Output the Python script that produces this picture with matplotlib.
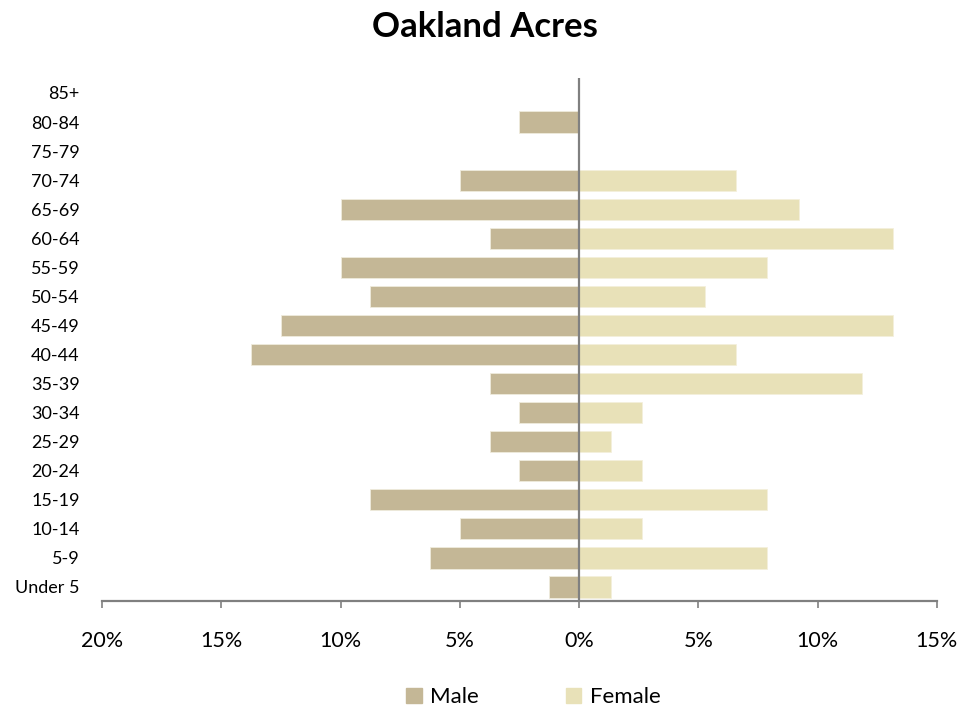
import numpy as np
import matplotlib.pyplot as plt
from matplotlib.ticker import FuncFormatter
from matplotlib.patches import Patch

plt.rcParams['font.family'] = ['Lato', 'DejaVu Sans']

# age groups bottom to top
ages = ['Under 5', '5-9', '10-14', '15-19', '20-24', '25-29', '30-34', '35-39',
        '40-44', '45-49', '50-54', '55-59', '60-64', '65-69', '70-74', '75-79',
        '80-84', '85+']
male = [1.25, 6.25, 5.0, 8.75, 2.5, 3.75, 2.5, 3.75,
        13.75, 12.5, 8.75, 10.0, 3.75, 10.0, 5.0, 0.0, 2.5, 0.0]
female = [1.32, 7.89, 2.63, 7.89, 2.63, 1.32, 2.63, 11.84,
          6.58, 13.16, 5.26, 7.89, 13.16, 9.21, 6.58, 0.0, 0.0, 0.0]
x_ticks = [-20, -15, -10, -5, 0, 5, 10, 15]

male_color = '#C4B796'
female_color = '#E8E1B8'

fig = plt.figure(figsize=(9.79, 7.13), dpi=100)
ax = fig.add_axes([0.1042, 0.1564, 0.8528, 0.7336])

y = np.arange(len(ages))
ax.barh(y, -np.array(male), height=0.73, color=male_color,
        edgecolor='#EFEBDD', linewidth=0.6, label='Male')
ax.barh(y, female, height=0.73, color=female_color,
        edgecolor='#F4F0DC', linewidth=0.6, label='Female')

ax.axvline(0, color='#808080', lw=1.6, zorder=3)

ax.set_xlim(-20, 15)
ax.set_ylim(-0.5, len(ages) - 0.5)
ax.set_xticks(x_ticks)
ax.xaxis.set_major_formatter(FuncFormatter(lambda v, p: f'{abs(v):.0f}%'))
ax.set_yticks(y)
ax.set_yticklabels(ages)

for s in ['top', 'right', 'left']:
    ax.spines[s].set_visible(False)
ax.spines['bottom'].set_color('#808080')
ax.spines['bottom'].set_linewidth(1.6)

ax.tick_params(axis='x', direction='out', length=5, width=1.2, color='#808080',
               labelsize=15.5, pad=16)
ax.tick_params(axis='y', length=0, labelsize=13, pad=16)

fig.text(0.495, 0.962, 'Oakland Acres', fontsize=25, fontweight='bold',
         ha='center', va='center')

handles = [Patch(color=male_color, label='Male'),
           Patch(color=female_color, label='Female')]
fig.legend(handles=handles, loc='center', bbox_to_anchor=(0.545, 0.022),
           ncol=2, frameon=False, fontsize=16, handlelength=0.7,
           handleheight=0.7, columnspacing=3.9, handletextpad=0.4)

fig.savefig('out.png', dpi=100)
